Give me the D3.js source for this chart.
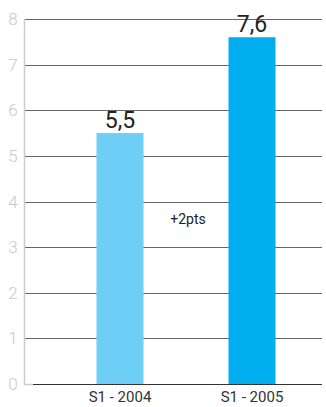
<!DOCTYPE html>
<html>
<head>
<meta charset="utf-8">
<script src="https://cdn.jsdelivr.net/npm/d3@7"></script>
<style>
  body { margin: 0; background: #fff; }
  svg { display: block; }
  text { font-family: Roboto, "Liberation Sans", sans-serif; }
</style>
</head>
<body>
<div class="chart-area"></div>
<script>
// data
var categories = ["S1 - 2004", "S1 - 2005"];
var values = [5.5, 7.6];
var valueLabels = ["5,5", "7,6"];
var barColors = ["#6dcff6", "#00aeef"];
var yTicks = [0, 1, 2, 3, 4, 5, 6, 7, 8];
var note = "+2pts";

var width = 326, height = 407;

var svg = d3.select(".chart-area").append("svg")
    .attr("width", width)
    .attr("height", height);

var x = d3.scaleBand()
    .domain(categories)
    .range([54, 318])
    .paddingInner(0.644)
    .paddingOuter(0.322);

var y = d3.scaleLinear()
    .domain([0, 8])
    .range([384, 19]);

// gridlines
svg.selectAll("line.grid")
    .data(yTicks.filter(function(d) { return d > 0; }))
    .enter()
    .append("line")
    .attr("class", "grid")
    .attr("x1", 24)
    .attr("x2", 322)
    .attr("y1", function(d) { return Math.round(y(d)) + 0.5; })
    .attr("y2", function(d) { return Math.round(y(d)) + 0.5; })
    .attr("stroke", "#666")
    .attr("stroke-width", 1);

// left axis line (light)
svg.append("path")
    .attr("d", "M24.5," + y(8) + "V" + (Math.round(y(0)) + 0.5) + "H33")
    .attr("fill", "none")
    .attr("stroke", "#ccc")
    .attr("stroke-width", 1.5);

// baseline
svg.append("line")
    .attr("x1", 33)
    .attr("x2", 322)
    .attr("y1", Math.round(y(0)) + 0.5)
    .attr("y2", Math.round(y(0)) + 0.5)
    .attr("stroke", "#333");

// tick labels
svg.selectAll("text.tick")
    .data(yTicks)
    .enter()
    .append("text")
    .attr("class", "tick")
    .attr("x", 13)
    .attr("y", function(d) { return y(d); })
    .attr("dy", "0.36em")
    .attr("text-anchor", "middle")
    .attr("font-size", 17)
    .attr("font-weight", 300)
    .attr("fill", "#c8c8c8")
    .text(function(d) { return d; });

// bars
svg.selectAll("rect.bar")
    .data(values)
    .enter()
    .append("rect")
    .attr("class", "bar")
    .attr("x", function(d, i) { return x(categories[i]); })
    .attr("width", x.bandwidth())
    .attr("y", function(d) { return y(d); })
    .attr("height", function(d) { return y(0) - y(d); })
    .attr("fill", function(d, i) { return barColors[i]; });

// value labels
svg.selectAll("text.value")
    .data(values)
    .enter()
    .append("text")
    .attr("class", "value")
    .attr("x", function(d, i) { return x(categories[i]) + x.bandwidth() / 2; })
    .attr("y", function(d) { return y(d) - 5; })
    .attr("text-anchor", "middle")
    .attr("font-size", 23)
    .attr("fill", "#222")
    .text(function(d, i) { return valueLabels[i]; });

// category labels
svg.selectAll("text.cat")
    .data(categories)
    .enter()
    .append("text")
    .attr("class", "cat")
    .attr("x", function(d) { return x(d) + x.bandwidth() / 2; })
    .attr("y", 402)
    .attr("text-anchor", "middle")
    .attr("font-size", 15)
    .attr("fill", "#333")
    .text(function(d) { return d; });

// difference note
svg.append("text")
    .attr("x", 188)
    .attr("y", 224)
    .attr("text-anchor", "middle")
    .attr("font-size", 14)
    .attr("fill", "#222")
    .text(note);
</script>
</body>
</html>
